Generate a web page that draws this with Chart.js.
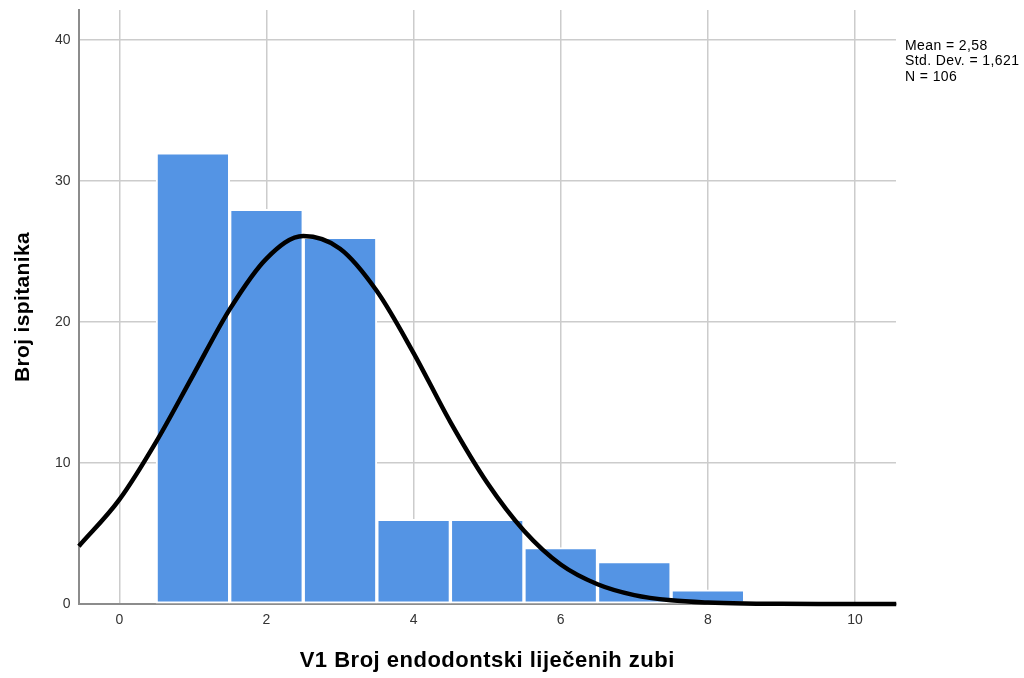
<!DOCTYPE html>
<html lang="hr">
<head>
<meta charset="UTF-8">
<title>Histogram</title>
<script src="https://cdn.jsdelivr.net/npm/chart.js"></script>
<style>
    body { margin: 0; background: #fff; }
    .wrap { position: relative; width: 1024px; height: 678px; }
</style>
</head>
<body>
<div class="wrap"><canvas id="histChart"></canvas></div>
<script>
    // histogram bins (bin width 1)
    const binCenters = [1, 2, 3, 4, 5, 6, 7, 8];
    const binCounts = [32, 28, 26, 6, 6, 4, 3, 1];

    // normal curve, every 0.5
    const curveX = [-0.55, 0, 0.5, 1, 1.5, 2, 2.5, 3, 3.5, 4, 4.5, 5, 5.5, 6, 6.5, 7, 7.5, 8, 8.5, 9, 9.5, 10, 10.56];
    const curveY = [4.1, 7.4, 11.5, 16.2, 20.9, 24.5, 26.1, 25.2, 22.2, 17.8, 12.9, 8.6, 5.2, 2.8, 1.4, 0.63, 0.26, 0.1, 0.03, 0.01, 0, 0, 0];

    const xTicks = [0, 2, 4, 6, 8, 10];
    const yTicks = [0, 10, 20, 30, 40];

    const statLines = ['Mean = 2,58', 'Std. Dev. = 1,621', 'N = 106'];
    const xTitle = 'V1 Broj endodontski liječenih zubi';
    const yTitle = 'Broj ispitanika';

    const FONT = "'Liberation Sans', Arial, sans-serif";

    const textPlugin = {
        id: 'texts',
        afterDraw(chart) {
            const ctx = chart.ctx;
            const a = chart.chartArea;
            ctx.save();
            ctx.fillStyle = '#000';
            ctx.textAlign = 'center';
            ctx.textBaseline = 'middle';
            ctx.font = 'bold 22px ' + FONT;
            ctx.letterSpacing = '0.5px';
            ctx.fillText(xTitle, (a.left + a.right) / 2, 661);
            ctx.font = 'bold 21px ' + FONT;
            ctx.letterSpacing = '0.35px';
            ctx.translate(23, (a.top + a.bottom) / 2);
            ctx.rotate(-Math.PI / 2);
            ctx.fillText(yTitle, 0, 0);
            ctx.restore();

            ctx.save();
            ctx.fillStyle = '#000';
            ctx.font = '14px ' + FONT;
            ctx.letterSpacing = '0.4px';
            ctx.textAlign = 'left';
            ctx.textBaseline = 'middle';
            statLines.forEach((s, i) => ctx.fillText(s, 905, 46 + i * 15.5));
            ctx.restore();
        }
    };

    new Chart(document.getElementById('histChart'), {
        type: 'bar',
        data: {
            datasets: [
                {
                    type: 'line',
                    data: curveX.map((x, i) => ({ x: x, y: curveY[i] })),
                    borderColor: '#000',
                    borderWidth: 4.5,
                    pointRadius: 0,
                    cubicInterpolationMode: 'monotone',
                    fill: false,
                    clip: 4,
                    order: 0
                },
                {
                    type: 'bar',
                    data: binCenters.map((x, i) => ({ x: x, y: binCounts[i] })),
                    backgroundColor: '#5494e4',
                    borderColor: '#ffffff',
                    borderWidth: 2,
                    borderSkipped: false,
                    barPercentage: 1,
                    categoryPercentage: 1,
                    order: 1
                }
            ]
        },
        options: {
            responsive: true,
            maintainAspectRatio: false,
            animation: false,
            layout: { padding: { left: 0, right: 128, top: 10, bottom: 0 } },
            plugins: { legend: { display: false }, tooltip: { enabled: false } },
            scales: {
                x: {
                    type: 'linear',
                    min: -0.555,
                    max: 10.557,
                    offset: false,
                    afterFit: s => { s.height = 74; s.paddingLeft = 0; s.paddingRight = 0; },
                    afterBuildTicks: s => { s.ticks = xTicks.map(v => ({ value: v })); },
                    ticks: { includeBounds: false, padding: 8, color: '#333', font: { family: FONT, size: 14 } },
                    grid: { offset: false, color: '#cccccc', lineWidth: 1.5, drawTicks: false },
                    border: { color: '#8c8c8c', width: 2 }
                },
                y: {
                    min: 0,
                    max: 42.13,
                    afterFit: s => { s.width = 78.5; s.paddingTop = 0; s.paddingBottom = 0; },
                    afterBuildTicks: s => { s.ticks = yTicks.map(v => ({ value: v })); },
                    ticks: { includeBounds: false, padding: 8, color: '#333', font: { family: FONT, size: 14 } },
                    grid: { color: '#cccccc', lineWidth: 1.5, drawTicks: false },
                    border: { color: '#8c8c8c', width: 2 }
                }
            }
        },
        plugins: [textPlugin]
    });
</script>
</body>
</html>
